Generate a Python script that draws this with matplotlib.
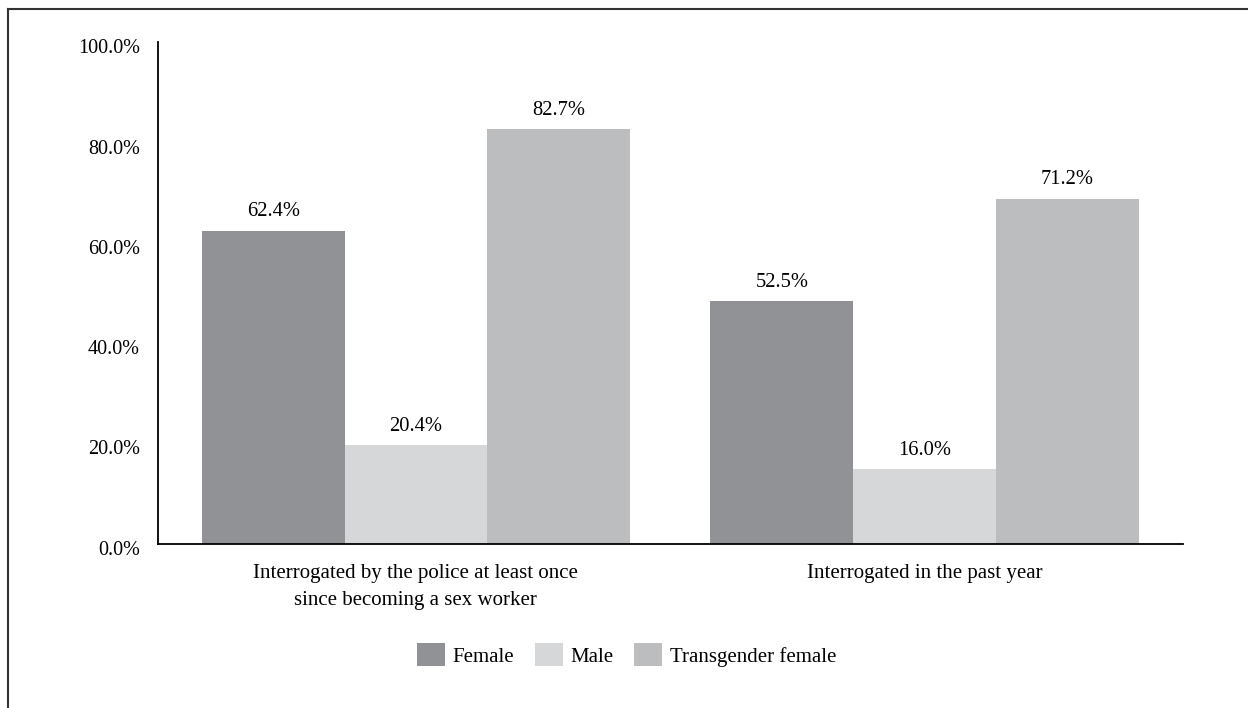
import matplotlib.pyplot as plt
import numpy as np
from matplotlib.lines import Line2D
from matplotlib.transforms import ScaledTranslation

plt.rcParams['font.family'] = ['Liberation Serif', 'DejaVu Serif']
plt.rcParams['font.size'] = 14

categories = ["Interrogated by the police at least once\nsince becoming a sex worker",
              "Interrogated in the past year"]
series = ["Female", "Male", "Transgender female"]

# bar heights as drawn, and the value labels printed on top
female = [62.4, 48.4]
male = [19.6, 14.9]
transgender = [82.7, 68.8]
female_labels = ["62.4%", "52.5%"]
male_labels = ["20.4%", "16.0%"]
transgender_labels = ["82.7%", "71.2%"]

yticks = [0, 20, 40, 60, 80, 100]

colors = ['#919295', '#d6d7d9', '#bcbdbf']

fig = plt.figure(figsize=(12.48, 7.08), dpi=100)
ax = fig.add_axes([0.1266, 0.2323, 0.8213, 0.7083])

x = np.arange(len(categories))
w = 0.2806
for i, (vals, labs) in enumerate(zip([female, male, transgender],
                                     [female_labels, male_labels, transgender_labels])):
    bars = ax.bar(x + (i - 1) * w, vals, w, color=colors[i], label=series[i])
    for b, lab in zip(bars, labs):
        ax.annotate(lab, (b.get_x() + b.get_width() / 2, b.get_height()),
                    xytext=(0, 13.5), textcoords='offset points',
                    ha='center', va='center', fontsize=14.8)

ax.set_xlim(-0.507, 1.508)
ax.set_ylim(0, 100)
ax.set_yticks(yticks)
ax.set_yticklabels([f"{v:.1f}%" for v in yticks], fontsize=14.5)
ax.set_xticks(x)
ax.set_xticklabels(categories, linespacing=1.55, fontsize=15)
ax.tick_params(axis='y', length=0, pad=13)
ax.tick_params(axis='x', length=0, pad=15)
# the y labels sit a little below their gridline positions in the original
shift = ScaledTranslation(0, -3 / 72, fig.dpi_scale_trans)
for t in ax.get_yticklabels():
    t.set_transform(t.get_transform() + shift)
for s in ['top', 'right']:
    ax.spines[s].set_visible(False)
for s in ['left', 'bottom']:
    ax.spines[s].set_linewidth(1.3)
    ax.spines[s].set_color('black')

fig.legend(loc='center', bbox_to_anchor=(0.502, 0.075), ncol=3, frameon=False,
           handlelength=1.35, handleheight=1.3, handletextpad=0.35,
           columnspacing=1.0, fontsize=15)

# outer frame (cut off on the right and bottom)
fig.add_artist(Line2D([8 / 1248, 1], [1 - 9 / 708, 1 - 9 / 708],
                      transform=fig.transFigure, color='#333333', lw=1.5))
fig.add_artist(Line2D([8 / 1248, 8 / 1248], [0, 1 - 9 / 708],
                      transform=fig.transFigure, color='#333333', lw=1.5))

fig.savefig('out.png', dpi=100)
